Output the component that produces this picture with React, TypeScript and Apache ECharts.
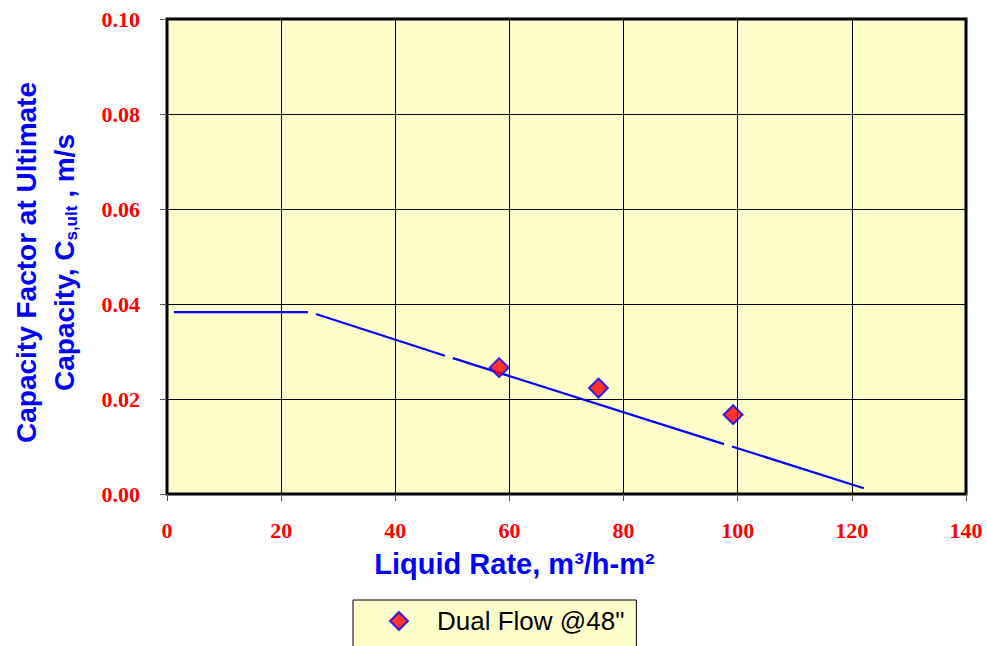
import React, { useEffect, useRef } from "react";
import * as echarts from "echarts";

const seriesName = 'Dual Flow @48"';
const liquidRate = [58.2, 75.6, 99.2];
const capacityFactor = [0.0266, 0.0223, 0.0167];

// fitted line, drawn in pieces (the reference shows small breaks)
const lineSeg1 = [[1.2, 0.0383], [24.7, 0.0383]];
const lineSeg2 = [[26.1, 0.0379], [48.7, 0.0291]];
const lineSeg3 = [[50.1, 0.0286], [97.6, 0.0105]];
const lineSeg4 = [[99.0, 0.01], [122.1, 0.0012]];
const lineSegments = [lineSeg1, lineSeg2, lineSeg3, lineSeg4];

const xTicks = { min: 0, max: 140, interval: 20 };
const yTicks = { min: 0, max: 0.1, interval: 0.02 };

export default function App() {
  const ref = useRef<HTMLDivElement>(null);
  useEffect(() => {
    if (!ref.current) return;
    const chart = echarts.init(ref.current, null, { renderer: "svg" });
    const labelStyle = {
      color: "#FF0000",
      fontFamily: "Liberation Serif",
      fontWeight: "bold" as const,
      fontSize: 22,
    };
    const lineSeries = lineSegments.map((seg, i) => ({
      name: "fit" + i,
      type: "line" as const,
      data: seg,
      symbol: "none",
      lineStyle: { color: "#0000FF", width: 2.2 },
      silent: true,
      z: 3,
    }));
    chart.setOption({
      animation: false,
      backgroundColor: "#FFFFFF",
      grid: {
        left: 167,
        right: 21,
        top: 19,
        bottom: 152,
        outerBoundsMode: "none",
        containLabel: false,
        show: true,
        backgroundColor: "#FFFFCC",
        borderColor: "#000000",
        borderWidth: 3,
      },
      legend: {
        data: [seriesName],
        left: 353,
        top: 600,
        orient: "horizontal",
        backgroundColor: "#FFFFCC",
        borderColor: "#000000",
        borderWidth: 1,
        borderRadius: 0,
        padding: [8, 12, 14, 36],
        itemWidth: 18,
        itemHeight: 18,
        textStyle: {
          color: "#000000",
          fontFamily: "Liberation Sans",
          fontSize: 26,
          padding: [0, 0, 0, 24],
        },
      },
      xAxis: {
        type: "value",
        min: xTicks.min,
        max: xTicks.max,
        interval: xTicks.interval,
        axisLine: { show: false },
        axisTick: { show: true, length: 7, lineStyle: { color: "#555555" } },
        splitLine: { show: true, lineStyle: { color: "#000000", width: 1 } },
        axisLabel: { ...labelStyle, margin: 25 },
        name: "Liquid Rate, m³/h-m²",
        nameLocation: "middle",
        nameGap: 55,
        nameTextStyle: {
          color: "#0000FF",
          fontFamily: "Liberation Sans",
          fontWeight: "bold",
          fontSize: 29,
          padding: [0, 104, 0, 0],
        },
      },
      yAxis: {
        type: "value",
        min: yTicks.min,
        max: yTicks.max,
        interval: yTicks.interval,
        axisLine: { show: false },
        axisTick: { show: true, length: 7, lineStyle: { color: "#555555" } },
        splitLine: { show: true, lineStyle: { color: "#000000", width: 1 } },
        axisLabel: {
          ...labelStyle,
          margin: 27,
          formatter: (v: number) => v.toFixed(2),
        },
        name: "{t|Capacity Factor at Ultimate}\n{t|Capacity, C}{s|s,ult}{t| , m/s}",
        nameLocation: "middle",
        nameRotate: 90,
        nameGap: 84,
        nameTextStyle: {
          color: "#0000FF",
          fontFamily: "Liberation Sans",
          fontWeight: "bold",
          fontSize: 28,
          lineHeight: 38,
          padding: [0, 12, 0, 0],
          rich: {
            t: {
              color: "#0000FF",
              fontFamily: "Liberation Sans",
              fontWeight: "bold",
              fontSize: 28,
              lineHeight: 38,
            },
            s: {
              color: "#0000FF",
              fontFamily: "Liberation Sans",
              fontWeight: "bold",
              fontSize: 17,
              lineHeight: 38,
              padding: [14, 0, 0, 0],
            },
          },
        },
      },
      series: [
        ...lineSeries,
        {
          name: seriesName,
          type: "scatter",
          data: liquidRate.map((x, i) => [x, capacityFactor[i]]),
          symbol: "diamond",
          symbolSize: 19,
          itemStyle: { color: "#FF0000", borderColor: "#0000FF", borderWidth: 2 },
          z: 5,
        },
      ],
    });
    return () => chart.dispose();
  }, []);
  return <div ref={ref} style={{ width: 987, height: 646, position: "absolute", left: 0, top: 0 }} />;
}
